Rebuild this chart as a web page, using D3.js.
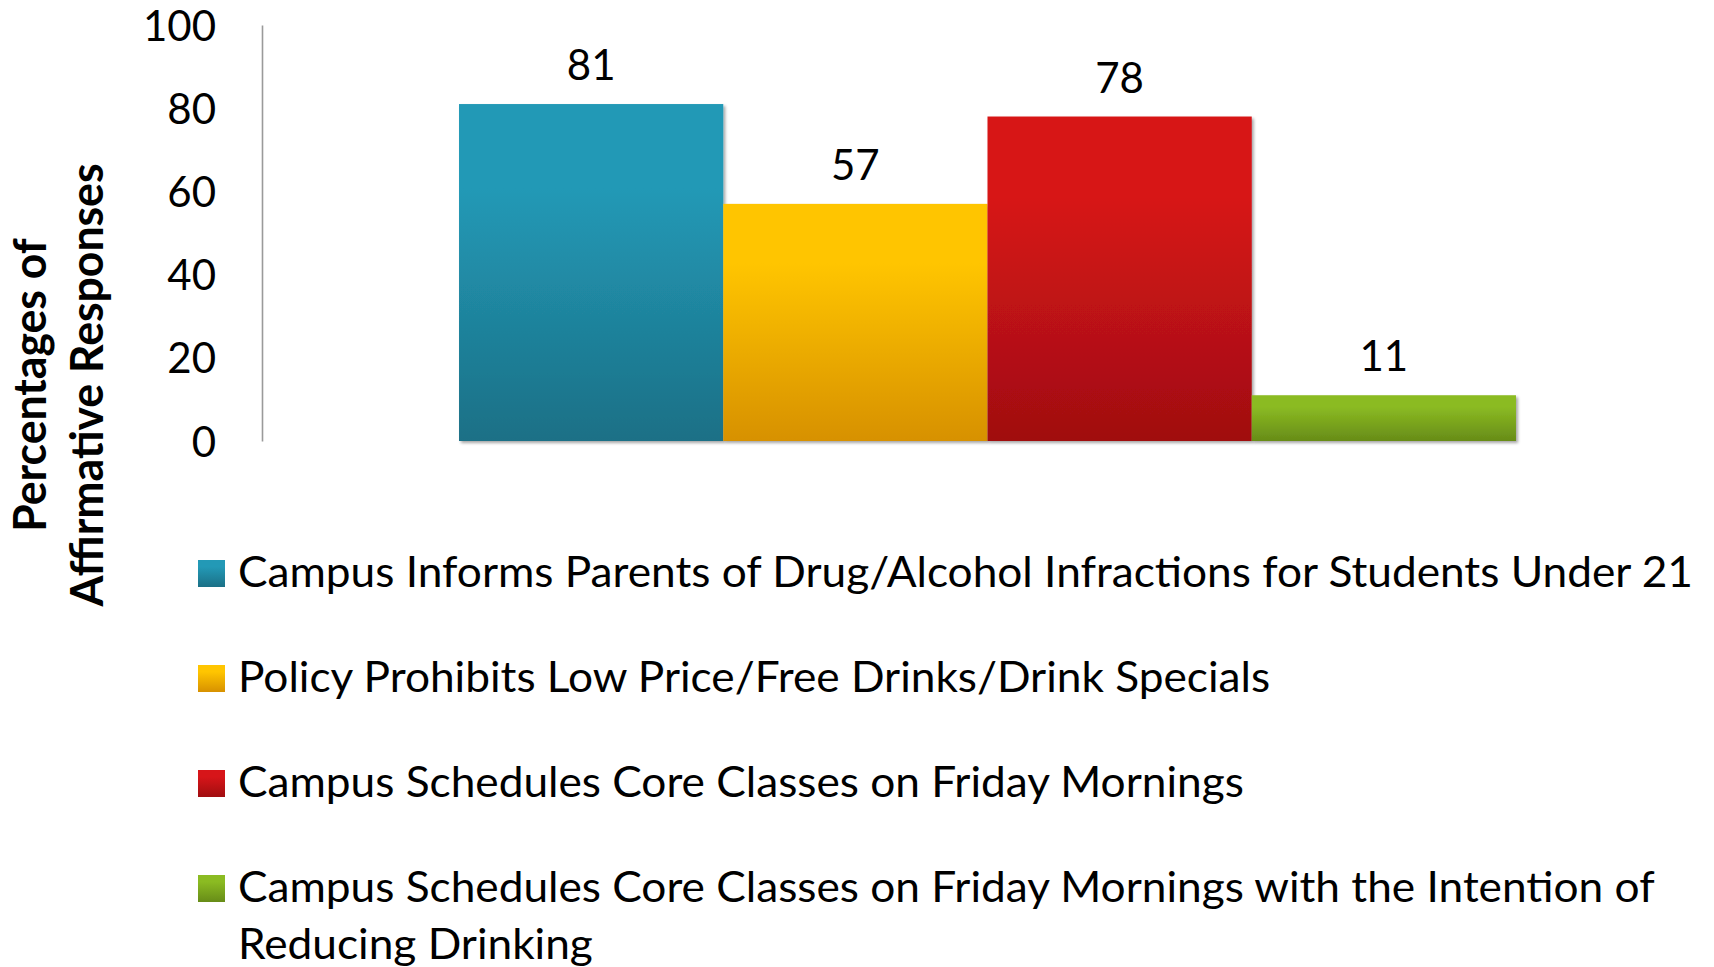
<!DOCTYPE html>
<html>
<head>
<meta charset="utf-8">
<script src="https://cdn.jsdelivr.net/npm/d3@7"></script>
<style>
  html, body { margin: 0; padding: 0; background: #ffffff; }
  svg { display: block; }
  text { font-family: Lato, "Open Sans", sans-serif; fill: #000; }
</style>
</head>
<body>
<svg id="chart" width="1714" height="967"></svg>
<script>
// ---- data ----
const categories = [""];
const seriesNames = [
  "Campus Informs Parents of Drug/Alcohol Infractions for Students Under 21",
  "Policy Prohibits Low Price/Free Drinks/Drink Specials",
  "Campus Schedules Core Classes on Friday Mornings",
  "Campus Schedules Core Classes on Friday Mornings with the Intention of Reducing Drinking"
];
const seriesValues = [81, 57, 78, 11];
const yTicks = [0, 20, 40, 60, 80, 100];
const yTitleLines = ["Percentages of", "Affirmative Responses"];
const seriesColors = [
  ["#2399b6", "#1b7086"],
  ["#ffc500", "#d79100"],
  ["#d71519", "#a00e10"],
  ["#8bbb22", "#678c18"]
];

// ---- layout ----
const W = 1714, H = 967;
const plot = { left: 262, right: 1713, top: 25, bottom: 441 };
const svg = d3.select("#chart");
const defs = svg.append("defs");

seriesColors.forEach((c, i) => {
  const g = defs.append("linearGradient").attr("id", "grad" + i)
    .attr("x1", 0).attr("y1", 0).attr("x2", 0).attr("y2", 1);
  g.append("stop").attr("offset", "0%").attr("stop-color", c[0]);
  g.append("stop").attr("offset", "25%").attr("stop-color", c[0]);
  g.append("stop").attr("offset", "100%").attr("stop-color", c[1]);
});
const f = defs.append("filter").attr("id", "shadow")
  .attr("x", "-5%").attr("y", "-5%").attr("width", "115%").attr("height", "120%");
f.append("feDropShadow").attr("dx", 2).attr("dy", 2).attr("stdDeviation", 1.6)
  .attr("flood-color", "#000").attr("flood-opacity", 0.35);

const y = d3.scaleLinear().domain([0, 100]).range([plot.bottom, plot.top]);
const x0 = d3.scaleBand().domain(categories).range([plot.left, plot.right])
  .paddingInner(0).paddingOuter(0.1864);
const x1 = d3.scaleBand().domain(d3.range(seriesNames.length)).range([0, x0.bandwidth()]).padding(0);

// y axis
const yAxis = d3.axisLeft(y).tickValues(yTicks).tickSize(0).tickPadding(46);
const ax = svg.append("g").attr("transform", `translate(${plot.left},0)`).call(yAxis);
ax.select(".domain").attr("stroke", "#9a9a9a").attr("stroke-width", 1.6);
ax.selectAll(".tick text").attr("font-size", 42).attr("fill", "#000")
  .style("font-family", "Lato, sans-serif").attr("dy", "0.36em");

// bars
const gBars = svg.append("g").attr("transform", `translate(${x0(categories[0])},0)`);
gBars.selectAll("rect").data(seriesValues).join("rect")
  .attr("x", (d, i) => x1(i))
  .attr("width", x1.bandwidth())
  .attr("y", d => y(d))
  .attr("height", d => y(0) - y(d))
  .attr("fill", (d, i) => `url(#grad${i})`)
  .attr("filter", "url(#shadow)");

// value labels
gBars.selectAll("text.val").data(seriesValues).join("text").attr("class", "val")
  .attr("x", (d, i) => x1(i) + x1.bandwidth() / 2)
  .attr("y", d => y(d) - 24)
  .attr("text-anchor", "middle")
  .attr("font-size", 42)
  .text(d => d);

// y title
const yt = svg.append("g").attr("transform", "translate(0,385) rotate(-90)");
const titleTexts = yt.selectAll("text").data(yTitleLines).join("text")
  .attr("x", 0).attr("y", (d, i) => 46 + i * 57)
  .attr("text-anchor", "middle")
  .attr("font-size", 46).attr("font-weight", "bold")
  .text(d => d);
// adjust width to match the narrower original face
const tmeas = titleTexts.nodes()[1].getComputedTextLength();
const tRatio = 443 / tmeas;
titleTexts.each(function() {
  const w = this.getComputedTextLength();
  d3.select(this).attr("textLength", w * tRatio).attr("lengthAdjust", "spacingAndGlyphs");
});

// legend
const leg = svg.append("g");
const legX = 238, legY0 = 587, legStep = 105, lineH = 57, maxW = 1466;
const probe = leg.append("text").attr("font-size", 42).text(seriesNames[0]);
const ratio = 1455 / probe.node().getComputedTextLength();
probe.remove();

function wrap(str) {
  const words = str.split(" ");
  const lines = [];
  let cur = "";
  words.forEach(w => {
    const test = cur ? cur + " " + w : w;
    const t = leg.append("text").attr("font-size", 42).text(test);
    const len = t.node().getComputedTextLength() * ratio;
    t.remove();
    if (len > maxW && cur) { lines.push(cur); cur = w; } else { cur = test; }
  });
  if (cur) lines.push(cur);
  return lines;
}

seriesNames.forEach((name, i) => {
  const by = legY0 + i * legStep;
  leg.append("rect").attr("x", 198).attr("y", by - 27).attr("width", 27).attr("height", 27)
    .attr("fill", `url(#grad${i})`);
  wrap(name).forEach((ln, j) => {
    const t = leg.append("text").attr("x", legX).attr("y", by + j * lineH)
      .attr("font-size", 42).text(ln);
    const w = t.node().getComputedTextLength();
    t.attr("textLength", w * ratio).attr("lengthAdjust", "spacingAndGlyphs");
  });
});
</script>
</body>
</html>
